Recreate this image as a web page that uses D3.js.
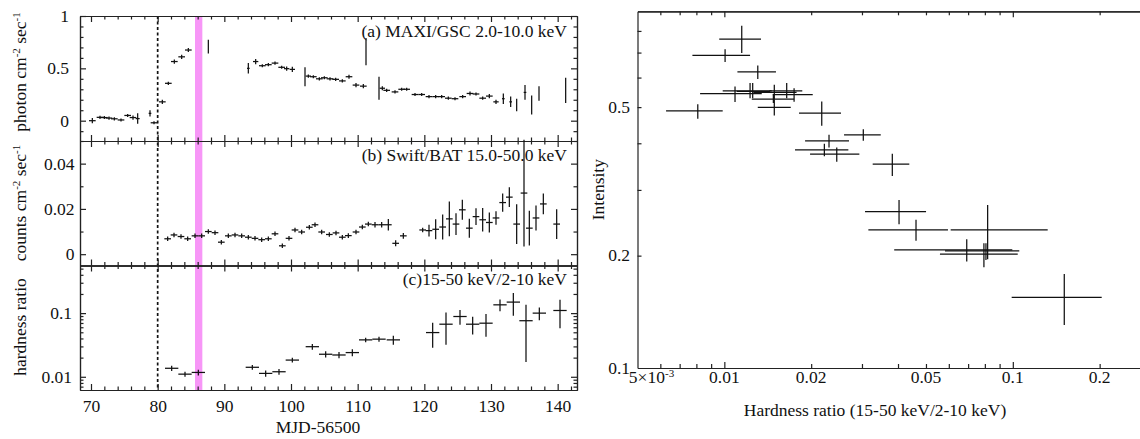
<!DOCTYPE html>
<html>
<head>
<meta charset="utf-8">
<script src="https://cdn.jsdelivr.net/npm/d3@7"></script>
<style>
  body { margin: 0; background: #fff; }
  svg text { font-family: "Liberation Serif", "Times New Roman", serif; font-size: 17.5px; fill: #111; }
  .axis path, .axis line { stroke: #222; stroke-width: 1.2; fill: none; }
  .err line { stroke: #111; stroke-width: 1.25; }
</style>
</head>
<body>
<svg id="chart" width="1140" height="439"></svg>
<script>
// (a) MAXI/GSC 2-10 keV : [MJD-56500, photon cm-2 s-1, error, half bin]
const maxiRows = [
  [70.2, 0.000, 0.025, 0.5], [71.35, 0.032, 0.015, 0.5], [72.0, 0.030, 0.015, 0.5],
  [72.7, 0.025, 0.015, 0.5], [73.5, 0.018, 0.015, 0.5], [74.5, 0.007, 0.015, 0.5],
  [75.5, 0.050, 0.015, 0.5], [76.3, 0.030, 0.02, 0.5], [77.0, 0.020, 0.05, 0.3],
  [78.85, 0.070, 0.03, 0.2], [79.45, -0.020, 0.015, 0.5], [80.7, 0.180, 0.02, 0.5],
  [81.6, 0.357, 0.015, 0.5], [82.5, 0.565, 0.02, 0.5], [83.6, 0.610, 0.02, 0.5],
  [84.6, 0.675, 0.02, 0.5], [87.6, 0.707, 0.065, 0],
  [93.6, 0.500, 0.05, 0.2], [94.7, 0.565, 0.025, 0.4], [95.7, 0.525, 0.015, 0.5],
  [96.6, 0.535, 0.015, 0.5], [97.6, 0.550, 0.015, 0.5], [98.6, 0.510, 0.015, 0.5],
  [99.35, 0.497, 0.02, 0.4], [100.2, 0.490, 0.025, 0.4],
  [102.1, 0.420, 0.09, 0], [102.6, 0.426, 0.015, 0.4], [103.35, 0.420, 0.015, 0.5],
  [104.25, 0.400, 0.015, 0.5], [105.0, 0.410, 0.015, 0.5], [105.85, 0.400, 0.015, 0.5],
  [106.7, 0.395, 0.015, 0.5], [107.7, 0.380, 0.015, 0.5], [108.7, 0.420, 0.02, 0.5],
  [109.75, 0.340, 0.02, 0.5], [110.85, 0.330, 0.02, 0.5], [111.25, 0.660, 0.13, 0],
  [113.2, 0.310, 0.11, 0], [113.7, 0.310, 0.02, 0.4], [114.35, 0.290, 0.015, 0.5],
  [115.6, 0.275, 0.015, 0.5], [116.6, 0.300, 0.015, 0.5], [117.35, 0.300, 0.015, 0.5],
  [118.6, 0.250, 0.015, 0.5], [119.6, 0.250, 0.015, 0.5], [120.7, 0.230, 0.015, 0.5],
  [121.7, 0.230, 0.015, 0.5], [122.6, 0.230, 0.015, 0.5], [123.6, 0.215, 0.015, 0.5],
  [124.6, 0.210, 0.015, 0.5], [125.75, 0.230, 0.015, 0.5], [126.85, 0.260, 0.02, 0.5],
  [127.75, 0.255, 0.015, 0.5], [128.75, 0.215, 0.015, 0.5], [129.75, 0.235, 0.02, 0.5],
  [130.75, 0.180, 0.02, 0.4], [131.85, 0.210, 0.05, 0.2], [132.95, 0.180, 0.05, 0.2],
  [133.85, 0.150, 0.06, 0], [135.1, 0.270, 0.07, 0.2], [136.1, 0.150, 0.09, 0],
  [137.2, 0.260, 0.07, 0], [141.2, 0.290, 0.12, 0]
];

// (b) Swift/BAT 15-50 keV : [MJD-56500, counts cm-2 s-1, error]
const batRows = [
  [81.5, 0.0068, 0.001], [82.45, 0.0085, 0.001], [83.5, 0.0078, 0.001], [84.5, 0.0068, 0.001],
  [85.6, 0.0081, 0.001], [86.6, 0.0081, 0.001], [87.6, 0.0100, 0.001], [88.6, 0.0095, 0.001],
  [89.55, 0.0053, 0.001], [90.6, 0.0081, 0.001], [91.6, 0.0085, 0.001], [92.6, 0.0081, 0.001],
  [93.6, 0.0075, 0.001], [94.6, 0.0070, 0.001], [95.6, 0.0064, 0.001], [96.6, 0.0068, 0.001],
  [97.6, 0.0090, 0.001], [98.7, 0.0037, 0.001], [99.7, 0.0070, 0.001], [100.6, 0.0107, 0.001],
  [101.6, 0.0098, 0.001], [102.75, 0.0119, 0.001], [103.6, 0.0130, 0.001], [104.6, 0.0098, 0.001],
  [105.75, 0.0087, 0.001], [106.75, 0.0094, 0.001], [107.7, 0.0075, 0.001], [108.6, 0.0082, 0.001],
  [109.75, 0.0098, 0.001], [110.7, 0.0120, 0.001], [111.6, 0.0133, 0.001], [112.6, 0.0130, 0.0012],
  [113.6, 0.0130, 0.0012], [114.6, 0.0130, 0.0025], [115.7, 0.0048, 0.0013], [116.85, 0.0081, 0.0013],
  [119.75, 0.0107, 0.001], [120.7, 0.0104, 0.0026], [121.7, 0.0110, 0.0044], [122.75, 0.0120, 0.0055],
  [123.75, 0.0156, 0.0077], [124.75, 0.0133, 0.0048], [125.7, 0.0196, 0.0044], [126.75, 0.0115, 0.0042],
  [127.75, 0.0166, 0.0037], [128.75, 0.0152, 0.0052], [129.75, 0.0140, 0.0044], [130.75, 0.0160, 0.003],
  [131.75, 0.0228, 0.004], [132.75, 0.0252, 0.0044], [133.85, 0.0133, 0.0088], [134.95, 0.0270, 0.0236],
  [135.75, 0.0115, 0.0077], [136.75, 0.0160, 0.0055], [137.85, 0.0222, 0.0046], [139.85, 0.0133, 0.0066]
];
const batHalfBin = 0.5;

// (c) hardness 15-50 keV / 2-10 keV : [MJD-56500, ratio, error]
const hrRows = [
  [82.1, 0.0136, 0.0013], [84.1, 0.0110, 0.0010], [86.1, 0.0117, 0.0012],
  [94.2, 0.0141, 0.0012], [96.2, 0.0113, 0.0013], [98.2, 0.0120, 0.0012],
  [100.2, 0.0183, 0.0016], [103.2, 0.0297, 0.0030], [105.2, 0.0226, 0.0025],
  [107.2, 0.0220, 0.0025], [109.2, 0.0240, 0.0030], [111.2, 0.0380, 0.0030],
  [113.2, 0.0390, 0.0035], [115.35, 0.0380, 0.0060], [121.25, 0.0495, 0.021],
  [123.25, 0.0670, 0.035], [125.35, 0.0885, 0.023], [127.25, 0.0670, 0.021],
  [129.25, 0.0695, 0.027], [131.35, 0.1350, 0.028], [133.35, 0.1490, 0.058],
  [135.25, 0.0760, 0.059], [137.25, 0.1000, 0.023], [140.35, 0.1100, 0.052]
];
const hrHalfBin = 1;

const onsetMjd = 80;
const highlightSpan = [85.6, 86.7];

// right: [hardness, lo, hi, intensity, lo, hi]
const hidRows = [
  [0.01149, 0.0096, 0.0134, 0.761, 0.698, 0.826],
  [0.01006, 0.00775, 0.01228, 0.688, 0.660, 0.715],
  [0.01306, 0.0111, 0.0151, 0.621, 0.595, 0.646],
  [0.01089, 0.00824, 0.01348, 0.543, 0.516, 0.568],
  [0.01228, 0.00987, 0.01459, 0.553, 0.528, 0.580],
  [0.01254, 0.01104, 0.01439, 0.551, 0.528, 0.580],
  [0.01645, 0.01432, 0.01863, 0.553, 0.528, 0.580],
  [0.0149, 0.0126, 0.0178, 0.548, 0.523, 0.574],
  [0.01745, 0.01471, 0.02025, 0.540, 0.517, 0.562],
  [0.01479, 0.01245, 0.01745, 0.525, 0.513, 0.540],
  [0.0149, 0.01306, 0.01699, 0.499, 0.475, 0.523],
  [0.02176, 0.01815, 0.02538, 0.482, 0.446, 0.518],
  [0.03032, 0.0260, 0.03485, 0.4215, 0.4066, 0.4365],
  [0.02306, 0.01905, 0.02705, 0.406, 0.390, 0.4215],
  [0.02222, 0.01758, 0.02691, 0.384, 0.369, 0.399],
  [0.02453, 0.01982, 0.02938, 0.374, 0.357, 0.390],
  [0.03822, 0.03268, 0.04377, 0.3516, 0.3271, 0.3748],
  [0.04033, 0.03074, 0.05003, 0.2624, 0.2428, 0.2821],
  [0.04618, 0.03157, 0.0596, 0.2344, 0.2194, 0.2494],
  [0.0818, 0.0609, 0.1321, 0.2344, 0.1956, 0.2735],
  [0.06923, 0.0388, 0.0996, 0.2072, 0.1928, 0.2213],
  [0.0807, 0.0582, 0.1053, 0.2059, 0.1948, 0.2160],
  [0.0794, 0.0559, 0.1040, 0.2018, 0.1862, 0.2160],
  [0.1508, 0.0991, 0.2033, 0.1547, 0.1304, 0.1786],
  [0.00809, 0.00628, 0.00987, 0.4887, 0.4651, 0.509]
];

const svg = d3.select("#chart");

// ---------- left column: light curves ----------
const left = 80, right = 577;
const x = d3.scaleLinear().domain([68.35, 142.9]).range([left, right]);
const yA = d3.scaleLinear().domain([-0.194, 1.0]).range([141, 16]);
const yB = d3.scaleLinear().domain([-0.005, 0.05]).range([265.5, 141]);
const yC = d3.scaleLog().domain([0.0062, 0.56]).range([390, 265.5]);

const xMajor = d3.range(70, 141, 10);
const xMinor = d3.range(70, 143, 2).filter(v => v % 10 !== 0);
const noLabel = () => "";

function addAxis(axisFn, scale, values, len, transform, fmt, pad) {
  svg.append("g")
    .attr("class", "axis")
    .attr("transform", transform)
    .call(axisFn(scale).tickValues(values).tickSizeInner(len).tickSizeOuter(0)
      .tickPadding(pad || 3).tickFormat(fmt || noLabel));
}

// highlight band + onset line
svg.append("rect")
  .attr("x", x(highlightSpan[0]))
  .attr("width", x(highlightSpan[1]) - x(highlightSpan[0]))
  .attr("y", 16).attr("height", 390 - 16)
  .attr("fill", "#f796f7");

svg.append("line")
  .attr("x1", x(onsetMjd)).attr("x2", x(onsetMjd))
  .attr("y1", 16).attr("y2", 390)
  .attr("stroke", "#111").attr("stroke-width", 1.7)
  .attr("stroke-dasharray", "3,2.5");

const panels = [
  { y: yA, major: [0, 0.5, 1], minor: [-0.1, 0.1, 0.2, 0.3, 0.4, 0.6, 0.7, 0.8, 0.9], pad: 11 },
  { y: yB, major: [0, 0.02, 0.04], minor: [0.01, 0.03, 0.05], pad: 5.5 },
  { y: yC, major: [0.01, 0.1],
    minor: [0.007, 0.008, 0.009, 0.02, 0.03, 0.04, 0.05, 0.06, 0.07, 0.08, 0.09, 0.2, 0.3, 0.4, 0.5], pad: 8 }
];

panels.forEach((p, i) => {
  const [bot, top] = p.y.range();
  const last = i === panels.length - 1;
  addAxis(d3.axisBottom, x, xMajor, -6, `translate(0,${bot})`, last ? d3.format("d") : noLabel, 9.5);
  addAxis(d3.axisBottom, x, xMinor, -3.5, `translate(0,${bot})`);
  addAxis(d3.axisTop, x, xMajor, -6, `translate(0,${top})`);
  addAxis(d3.axisTop, x, xMinor, -3.5, `translate(0,${top})`);
  addAxis(d3.axisLeft, p.y, p.major, -6, `translate(${left},0)`, d3.format("~g"), p.pad);
  addAxis(d3.axisLeft, p.y, p.minor, -3.5, `translate(${left},0)`);
  addAxis(d3.axisRight, p.y, p.major, -6, `translate(${right},0)`);
  addAxis(d3.axisRight, p.y, p.minor, -3.5, `translate(${right},0)`);
});

function crosses(rows, y, xerr) {
  const g = svg.append("g").attr("class", "err");
  rows.forEach(d => {
    const hw = xerr(d);
    if (hw > 0) {
      g.append("line")
        .attr("x1", x(d[0] - hw)).attr("x2", x(d[0] + hw))
        .attr("y1", y(d[1])).attr("y2", y(d[1]));
    }
    g.append("line")
      .attr("x1", x(d[0])).attr("x2", x(d[0]))
      .attr("y1", y(d[1] - d[2])).attr("y2", y(d[1] + d[2]));
  });
}

crosses(maxiRows, yA, d => d[3]);
crosses(batRows, yB, () => batHalfBin);
crosses(hrRows, yC, () => hrHalfBin);

// panel captions
svg.append("text").attr("x", 567).attr("y", 37).attr("text-anchor", "end")
  .text("(a) MAXI/GSC 2.0-10.0 keV");
svg.append("text").attr("x", 567).attr("y", 161).attr("text-anchor", "end")
  .text("(b) Swift/BAT 15.0-50.0 keV");
svg.append("text").attr("x", 567).attr("y", 285).attr("text-anchor", "end")
  .text("(c)15-50 keV/2-10 keV");

function unitLabel(cx, cy, first) {
  const t = svg.append("text")
    .attr("transform", `translate(${cx},${cy}) rotate(-90)`)
    .attr("text-anchor", "middle");
  t.append("tspan").text(first + " cm");
  t.append("tspan").attr("dy", -6).style("font-size", "11px").text("-2");
  t.append("tspan").attr("dy", 6).text(" sec");
  t.append("tspan").attr("dy", -6).style("font-size", "11px").text("-1");
}
unitLabel(25.5, 72, "photon");
unitLabel(25.5, 203, "counts");
svg.append("text")
  .attr("transform", "translate(25.5,327) rotate(-90)")
  .attr("text-anchor", "middle")
  .text("hardness ratio");

svg.append("text").attr("x", 318).attr("y", 433).attr("text-anchor", "middle")
  .text("MJD-56500");

// ---------- right: hardness-intensity diagram ----------
const rl = 637.5, rt = 11.3, rb = 368;
const xR = d3.scaleLog().domain([0.005, 0.276]).range([rl, 1140]);
const yR = d3.scaleLog().domain([0.1, 0.903]).range([rb, rt]);

const hrMajor = [0.01, 0.1];
const hrMinor = [0.006, 0.007, 0.008, 0.009, 0.02, 0.03, 0.04, 0.05, 0.06, 0.07, 0.08, 0.09, 0.2];
const intTicks = [0.2, 0.3, 0.4, 0.5, 0.6, 0.7, 0.8];

function addAxisR(axisFn, scale, values, len, transform) {
  svg.append("g")
    .attr("class", "axis")
    .attr("transform", transform)
    .call(axisFn(scale).tickValues(values).tickSizeInner(len).tickSizeOuter(0).tickFormat(noLabel));
}
addAxisR(d3.axisBottom, xR, hrMajor, -6, `translate(0,${rb})`);
addAxisR(d3.axisBottom, xR, hrMinor, -4, `translate(0,${rb})`);
addAxisR(d3.axisTop, xR, hrMajor, -6, `translate(0,${rt})`);
addAxisR(d3.axisTop, xR, hrMinor, -4, `translate(0,${rt})`);
addAxisR(d3.axisLeft, yR, intTicks, -4, `translate(${rl},0)`);

// tick labels
const hrLabels = [0.01, 0.02, 0.05, 0.1, 0.2];
svg.append("g").selectAll("text").data(hrLabels).join("text")
  .attr("x", d => xR(d)).attr("y", rb + 15)
  .attr("text-anchor", "middle")
  .text(d => d3.format("~g")(d));
const firstLab = svg.append("text").attr("x", xR(0.005) + 14).attr("y", rb + 15)
  .attr("text-anchor", "middle");
firstLab.append("tspan").text("5×10");
firstLab.append("tspan").attr("dy", -6).style("font-size", "11px").text("-3");

const intLabels = [0.1, 0.2, 0.5];
svg.append("g").selectAll("text").data(intLabels).join("text")
  .attr("x", rl - 7.5).attr("y", d => yR(d)).attr("dy", "0.32em")
  .attr("text-anchor", "end")
  .text(d => d3.format("~g")(d));

const gR = svg.append("g").attr("class", "err");
hidRows.forEach(d => {
  gR.append("line")
    .attr("x1", xR(d[1])).attr("x2", xR(d[2]))
    .attr("y1", yR(d[3])).attr("y2", yR(d[3]));
  gR.append("line")
    .attr("x1", xR(d[0])).attr("x2", xR(d[0]))
    .attr("y1", yR(d[4])).attr("y2", yR(d[5]));
});

svg.append("text")
  .attr("transform", `translate(604,${(rt + rb) / 2}) rotate(-90)`)
  .attr("text-anchor", "middle")
  .text("Intensity");
svg.append("text").attr("x", 875).attr("y", 416).attr("text-anchor", "middle")
  .text("Hardness ratio (15-50 keV/2-10 keV)");
</script>
</body>
</html>
